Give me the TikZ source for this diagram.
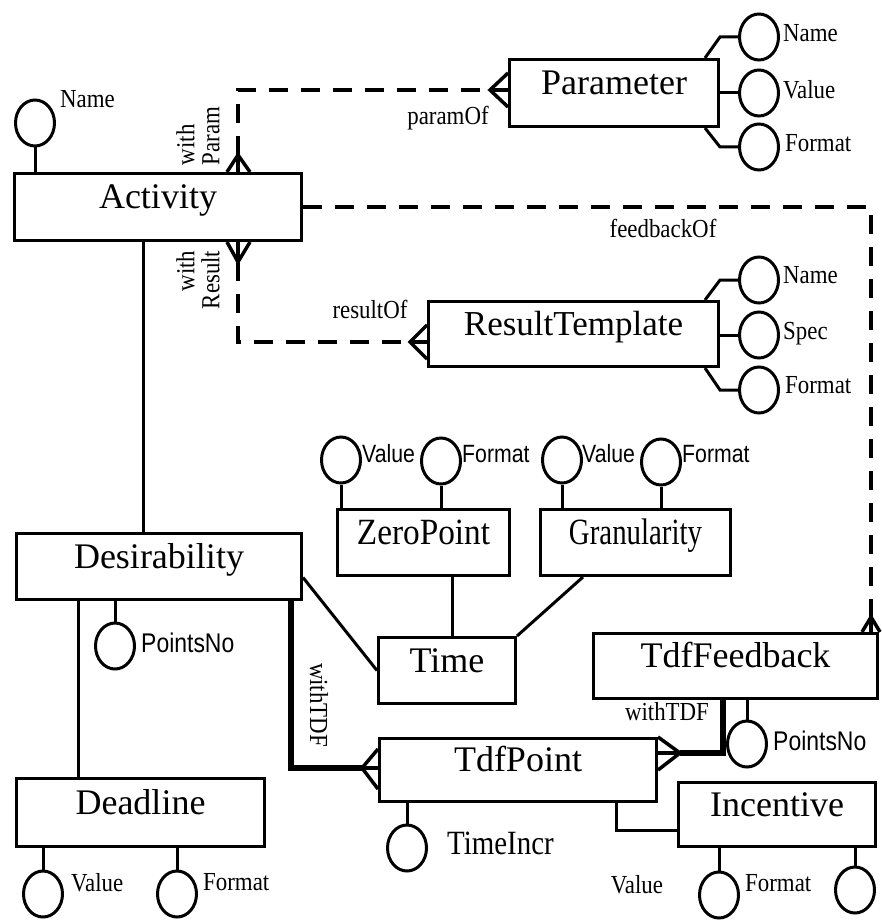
\documentclass[tikz,border=0pt]{standalone}
\usepackage{fontspec}
\setmainfont{Liberation Serif}
\setsansfont{Liberation Sans}
\newfontfamily\lblserif[FakeStretch=0.88]{Liberation Serif}
\newfontfamily\lblsans[FakeStretch=0.85]{Liberation Sans}
\newfontfamily\condA[FakeStretch=0.9]{Liberation Serif}
\newfontfamily\condB[FakeStretch=0.78]{Liberation Serif}
\newfontfamily\condC[FakeStretch=0.85]{Liberation Serif}
\usetikzlibrary{shapes.geometric,calc}
\begin{document}
\begin{tikzpicture}[x=1pt,y=-1pt,
  ent/.style={draw,line width=3pt,rectangle,inner sep=0pt,font=\fontsize{36}{40}\selectfont,text height=25pt,text depth=22pt},
  attr/.style={draw,line width=3pt,ellipse,minimum width=39pt,minimum height=46pt,inner sep=0pt},
  lbl/.style={inner sep=0pt,font=\lblserif\fontsize{26}{26}\selectfont,text height=17pt,text depth=0pt,anchor=west},
  rlbl/.style={inner sep=0pt,font=\lblserif\fontsize{26}{25}\selectfont},
  slbl/.style={inner sep=0pt,font=\lblsans\fontsize{25}{25}\selectfont,text height=18pt,text depth=0pt,anchor=west},
  plbl/.style={inner sep=0pt,font=\lblsans\fontsize{27}{27}\selectfont,text height=19pt,text depth=0pt,anchor=west},
  link/.style={line width=3pt},
  tlink/.style={line width=5.5pt},
  dlink/.style={line width=4pt,dash pattern=on 19pt off 13pt},
  crow/.style={line width=3.5pt}
]
\useasboundingbox (0,0) rectangle (881,920);

% ---------- entities ----------
\node[ent,minimum width=287pt,minimum height=67pt] (act) at (158,207) {Activity};
\node[ent,minimum width=209pt,minimum height=67pt] (param) at (614,93) {Parameter};
\node[ent,minimum width=290pt,minimum height=65pt,font=\fontsize{35}{40}\selectfont] (rt) at (573.5,334) {ResultTemplate};
\node[ent,minimum width=285pt,minimum height=66pt] (des) at (159,566.5) {Desirability};
\node[ent,minimum width=248pt,minimum height=68pt] (dl) at (140.5,812.5) {Deadline};
\node[ent,minimum width=172pt,minimum height=66pt,font=\condA\fontsize{37}{40}\selectfont] (zp) at (423.5,542.5) {ZeroPoint};
\node[ent,minimum width=190pt,minimum height=66pt,font=\condB\fontsize{37}{40}\selectfont] (gr) at (635.5,542.5) {Granularity};
\node[ent,minimum width=137pt,minimum height=66pt] (time) at (447,670.5) {Time};
\node[ent,minimum width=284pt,minimum height=65pt] (tfb) at (735.5,666) {TdfFeedback};
\node[ent,minimum width=277pt,minimum height=63pt] (tp) at (518,770) {TdfPoint};
\node[ent,minimum width=197pt,minimum height=64pt] (inc) at (777,814.5) {Incentive};

% ---------- attributes ----------
\node[attr] (actName) at (35,123) {};
\draw[link] (actName.south) -- (actName.south |- act.north);
\node[lbl] (actNameL) at (60,99) {Name};

\node[attr] (pName) at (759,37) {};
\node[attr] (pValue) at (759,93) {};
\node[attr] (pFormat) at (759,147) {};
\coordinate (pNameK) at (720,37);
\coordinate (pFormatK) at (720,147);
\draw[link] ($(param.north east)+(-15,0)$) -- (pNameK) -- (pName.west);
\draw[link] (param.east) -- (pValue.west);
\draw[link] ($(param.south east)+(-15,0)$) -- (pFormatK) -- (pFormat.west);
\node[lbl] (pNameL) at (783,33) {Name};
\node[lbl] (pValueL) at (783,90) {Value};
\node[lbl] (pFormatL) at (785,143) {Format};

\node[attr] (rtName) at (759,280) {};
\node[attr] (rtSpec) at (759,335) {};
\node[attr] (rtFormat) at (759,390) {};
\coordinate (rtNameK) at (720,280);
\coordinate (rtFormatK) at (720,390);
\draw[link] ($(rt.north east)+(-15,0)$) -- (rtNameK) -- (rtName.west);
\draw[link] (rtSpec.west -| rt.east) -- (rtSpec.west);
\draw[link] ($(rt.south east)+(-15,0)$) -- (rtFormatK) -- (rtFormat.west);
\node[lbl] (rtNameL) at (783,275) {Name};
\node[lbl] (rtSpecL) at (783,331) {Spec};
\node[lbl] (rtFormatL) at (785,385) {Format};

\node[attr] (desPN) at (115,646) {};
\draw[link] (desPN.north) -- (desPN.north |- des.south);
\node[plbl] (desPNL) at (141,643) {PointsNo};

\node[attr] (dlValue) at (43,894) {};
\node[attr] (dlFormat) at (177,894) {};
\draw[link] (dlValue.north) -- (dlValue.north |- dl.south);
\draw[link] (dlFormat.north) -- (dlFormat.north |- dl.south);
\node[lbl] (dlValueL) at (71,883) {Value};
\node[lbl] (dlFormatL) at (203,882) {Format};

\node[attr] (zpValue) at (341,460) {};
\node[attr] (zpFormat) at (441,461) {};
\draw[link] (zpValue.south) -- (zpValue.south |- zp.north);
\draw[link] (zpFormat.south) -- (zpFormat.south |- zp.north);
\node[slbl] (zpValueL) at (362,453) {Value};
\node[slbl] (zpFormatL) at (462,453) {Format};

\node[attr] (grValue) at (562,460) {};
\node[attr] (grFormat) at (661,462) {};
\draw[link] (grValue.south) -- (grValue.south |- gr.north);
\draw[link] (grFormat.south) -- (grFormat.south |- gr.north);
\node[slbl] (grValueL) at (582,453) {Value};
\node[slbl] (grFormatL) at (682,453) {Format};

\node[attr] (tfbPN) at (747,744) {};
\draw[link] (tfbPN.north) -- (tfbPN.north |- tfb.south);
\node[plbl] (tfbPNL) at (773,741) {PointsNo};

\node[attr] (tpTI) at (407,848) {};
\draw[link] (tpTI.north) -- (tpTI.north |- tp.south);
\node[lbl,font=\condC\fontsize{34}{34}\selectfont,text height=22pt] (tpTIL) at (447,843) {TimeIncr};

\node[attr] (incA) at (719,895) {};
\node[attr] (incB) at (855,890) {};
\draw[link] (incA.north) -- (incA.north |- inc.south);
\draw[link] (incB.north) -- (incB.north |- inc.south);
\node[lbl,anchor=center] (incAL) at (637,885) {Value};
\node[lbl] (incBL) at (745,883) {Format};

% ---------- relationships ----------
\coordinate (cAD) at (143,0);
\draw[link] (act.south -| cAD) -- (des.north -| cAD);
\coordinate (cDD) at (78,0);
\draw[link] (des.south -| cDD) -- (dl.north -| cDD);
\draw[link] ($(des.east)+(0,11)$) -- (time.west);
\coordinate (cZT) at (452,0);
\draw[link] (zp.south -| cZT) -- (time.north -| cZT);
\coordinate (cGT) at (583,0);
\draw[link] (gr.south -| cGT) -- (time.north east);
\coordinate (cTI) at (616,830);
\draw[link] (tp.south -| cTI) |- (inc.west |- cTI);

% withTDF (Desirability -> TdfPoint)
\coordinate (wA) at (291,768);
\coordinate (wAv) at (362,768);
\draw[tlink] (des.south -| wA) -- (wA) -- (wAv);
\draw[crow] (wAv) -- (tp.west |- wAv);
\draw[crow] ($(tp.west |- wAv)+(0,-19)$) -- (wAv) -- ($(tp.west |- wAv)+(0,21)$);

% withTDF (TdfFeedback -> TdfPoint)
\coordinate (wB) at (723,753);
\coordinate (wBv) at (680,753);
\draw[tlink] (tfb.south -| wB) -- (wB) -- (wBv);
\draw[crow] (wBv) -- (tp.east |- wBv);
\draw[crow] ($(tp.east |- wBv)+(0,-16)$) -- (wBv) -- ($(tp.east |- wBv)+(0,17)$);

% Activity -- Parameter (dashed)
\coordinate (apV) at (238,155);
\coordinate (apC) at (238,90);
\coordinate (apW) at (490,90);
\draw[dlink] (apV) -- (apC) -- (apW);
\draw[crow] (apV) -- (act.north -| apV);
\draw[crow] ($(act.north -| apV)+(-11,0)$) -- (apV) -- ($(act.north -| apV)+(12,0)$);
\draw[crow] (apW) -- (param.west |- apW);
\draw[crow] ($(param.west |- apW)+(0,-17)$) -- (apW) -- ($(param.west |- apW)+(0,17)$);

% Activity -- ResultTemplate (dashed)
\coordinate (arV) at (238,262);
\coordinate (arC) at (238,342);
\coordinate (arW) at (410,342);
\draw[dlink] (arV) -- (arC) -- (arW);
\draw[crow] (arV) -- (act.south -| arV);
\draw[crow] ($(act.south -| arV)+(-11,0)$) -- (arV) -- ($(act.south -| arV)+(12,0)$);
\draw[crow] (arW) -- (rt.west |- arW);
\draw[crow] ($(rt.west |- arW)+(0,-17)$) -- (arW) -- ($(rt.west |- arW)+(0,17)$);

% Activity -- TdfFeedback (dashed)
\coordinate (afC) at (871,207);
\coordinate (afV) at (871,617);
\draw[dlink] (act.east) -- (afC) -- (afV);
\draw[crow] (afV) -- (tfb.north -| afV);
\draw[crow] ($(tfb.north -| afV)+(-9,0)$) -- (afV) -- ($(tfb.north -| afV)+(9,0)$);

% ---------- relationship labels ----------
\node[lbl,anchor=center] (lParamOf) at (448,116) {paramOf};
\node[rlbl,rotate=90,align=left] (lWithParam) at (198,136) {with\\Param};
\node[rlbl,rotate=90,align=right] (lWithResult) at (198,280) {with\\Result};
\node[lbl,anchor=center] (lResultOf) at (370,310) {resultOf};
\node[lbl,anchor=center] (lFeedbackOf) at (663,229) {feedbackOf};
\node[rlbl,rotate=-90] (lWithTDFa) at (319,705) {withTDF};
\node[lbl,anchor=center] (lWithTDFb) at (667,712) {withTDF};
\end{tikzpicture}
\end{document}
